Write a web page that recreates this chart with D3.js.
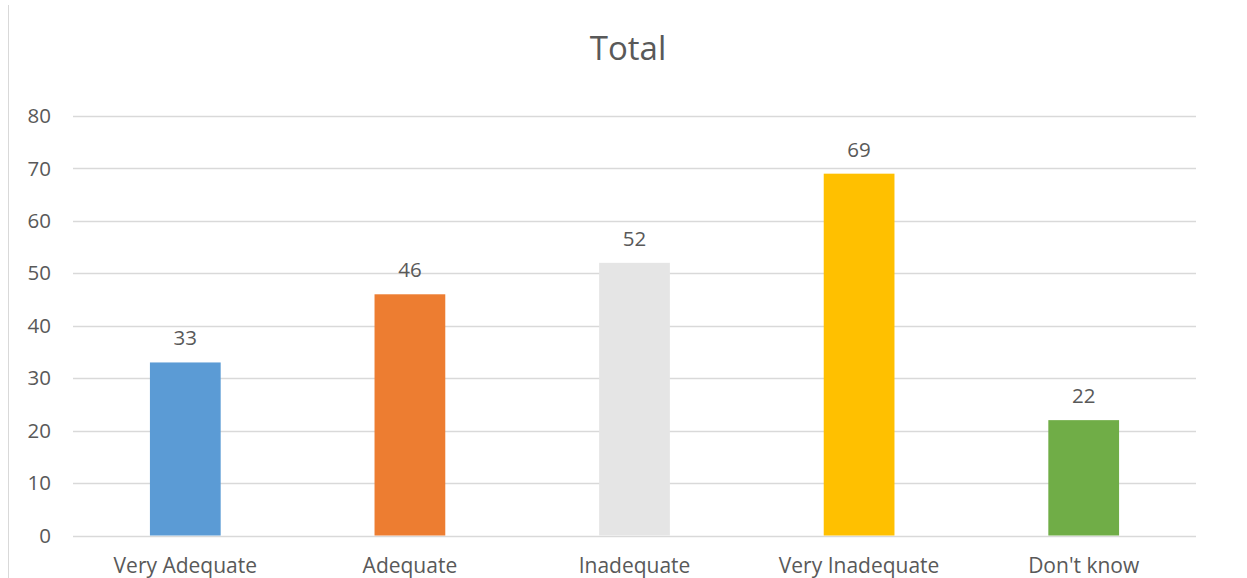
<!DOCTYPE html>
<html>
<head>
<meta charset="utf-8">
<script src="https://cdn.jsdelivr.net/npm/d3@7"></script>
<style>
  body { margin: 0; background: #fff; }
  svg { display: block; }
  text { font-family: "Open Sans", sans-serif; fill: #595959; }
</style>
</head>
<body>
<div id="chart"></div>
<script>
// chart data
const categories = ['Very Adequate', 'Adequate', 'Inadequate', 'Very Inadequate', "Don't know"];
const values = [33, 46, 52, 69, 22];
const barColors = ['#5B9BD5', '#ED7D31', '#E5E5E5', '#FFC000', '#70AD47'];
const yTicks = [0, 10, 20, 30, 40, 50, 60, 70, 80];

const width = 1247, height = 578;
const margin = { top: 116, right: 51, bottom: 42, left: 73 };

const svg = d3.select('#chart').append('svg')
    .attr('width', width)
    .attr('height', height);

// outer frame line on the left
svg.append('line')
    .attr('x1', 8.5).attr('x2', 8.5)
    .attr('y1', 5).attr('y2', height)
    .attr('stroke', '#d9d9d9');

const x = d3.scaleBand()
    .domain(categories)
    .range([margin.left, width - margin.right])
    .paddingInner(0.685)
    .paddingOuter(0.3425);

const y = d3.scaleLinear()
    .domain([0, 80])
    .range([height - margin.bottom - 0.5, margin.top]);

// gridlines
svg.append('g')
    .selectAll('line')
    .data(yTicks)
    .join('line')
    .attr('x1', margin.left)
    .attr('x2', width - margin.right)
    .attr('y1', d => Math.round(y(d)) + 0.5)
    .attr('y2', d => Math.round(y(d)) + 0.5)
    .attr('stroke', '#d9d9d9')
    .attr('stroke-width', 1.3);

// y axis labels
const yAxis = d3.axisLeft(y).tickValues(yTicks).tickSize(0).tickPadding(0);
const gy = svg.append('g')
    .attr('transform', `translate(${margin.left - 22},0)`)
    .call(yAxis);
gy.select('.domain').remove();
gy.selectAll('text')
    .style('font-size', '20.5px')
    .style('fill', '#595959');

// bars
svg.append('g')
    .selectAll('rect')
    .data(values)
    .join('rect')
    .attr('x', (d, i) => x(categories[i]))
    .attr('y', d => y(d))
    .attr('width', x.bandwidth())
    .attr('height', d => y(0) - y(d))
    .attr('fill', (d, i) => barColors[i]);

// value labels
svg.append('g')
    .selectAll('text')
    .data(values)
    .join('text')
    .attr('x', (d, i) => x(categories[i]) + x.bandwidth() / 2)
    .attr('y', d => y(d) - 17)
    .attr('text-anchor', 'middle')
    .style('font-size', '20.5px')
    .text(d => d);

// x axis labels
const xAxis = d3.axisBottom(x).tickSize(0).tickPadding(0);
const gx = svg.append('g')
    .attr('transform', `translate(0,${height - 5})`)
    .call(xAxis);
gx.select('.domain').remove();
gx.selectAll('text')
    .attr('dy', 0)
    .style('font-size', '21px')
    .style('fill', '#595959');

// title
svg.append('text')
    .attr('x', 628)
    .attr('y', 60)
    .attr('text-anchor', 'middle')
    .style('font-size', '33px')
    .text('Total');
</script>
</body>
</html>
